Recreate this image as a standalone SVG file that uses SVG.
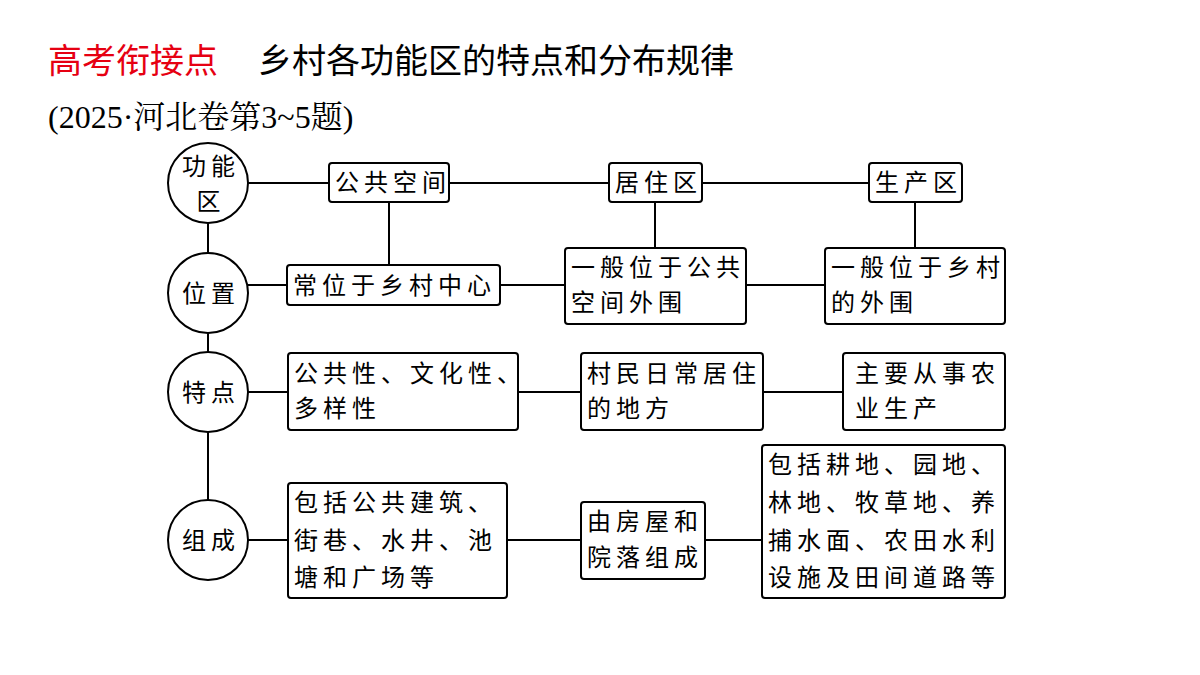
<svg xmlns="http://www.w3.org/2000/svg" width="1200" height="675" viewBox="0 0 1200 675">
<style>
.t{font-family:"Noto Sans CJK SC","Noto Sans",sans-serif;font-size:24px;letter-spacing:5px;fill:#000}
.b{fill:#fff;stroke:#000;stroke-width:2}
.l{stroke:#000;stroke-width:2;fill:none}
</style>
<rect width="1200" height="675" fill="#fff"/>
<text x="48" y="73" font-family="Noto Sans CJK SC,sans-serif" font-size="34" fill="#e60012">高考衔接点</text>
<text x="258" y="73" font-family="Noto Sans CJK SC,sans-serif" font-size="34" fill="#000">乡村各功能区的特点和分布规律</text>
<text x="48" y="128" font-family="Liberation Serif,Noto Serif CJK SC,Noto Sans CJK SC,serif" font-size="32" fill="#000">(2025·河北卷第3~5题)</text>
<g id="connectors" class="l">
<line x1="208" y1="183" x2="208" y2="540"/>
<line x1="248" y1="183" x2="869" y2="183"/>
<line x1="389" y1="202" x2="389" y2="265"/>
<line x1="655" y1="202" x2="655" y2="248"/>
<line x1="915" y1="202" x2="915" y2="248"/>
<line x1="248" y1="285" x2="825" y2="285"/>
<line x1="248" y1="392" x2="843" y2="392"/>
<line x1="248" y1="540" x2="762" y2="540"/>
</g>
<g id="c1"><circle class="b" cx="208" cy="183" r="40"/><text class="t" x="211" y="175" text-anchor="middle">功能</text><text class="t" x="211" y="210" text-anchor="middle">区</text></g>
<g id="c2"><circle class="b" cx="208" cy="293" r="40"/><text class="t" x="211" y="302" text-anchor="middle">位置</text></g>
<g id="c3"><circle class="b" cx="208" cy="392" r="40"/><text class="t" x="211" y="401" text-anchor="middle">特点</text></g>
<g id="c4"><circle class="b" cx="208" cy="540" r="40"/><text class="t" x="211" y="549" text-anchor="middle">组成</text></g>
<g id="n1"><rect class="b" x="329" y="163" width="120" height="39" rx="3"/><text class="t" x="335" y="191">公共空间</text></g>
<g id="n2"><rect class="b" x="609" y="163" width="93" height="39" rx="3"/><text class="t" x="615" y="191">居住区</text></g>
<g id="n3"><rect class="b" x="869" y="163" width="93" height="39" rx="3"/><text class="t" x="875" y="191">生产区</text></g>
<g id="n4"><rect class="b" x="287" y="265" width="213" height="40" rx="3"/><text class="t" x="293" y="294">常位于乡村中心</text></g>
<g id="n5"><rect class="b" x="565" y="248" width="181" height="76" rx="3"/><text class="t" x="571" y="276">一般位于公共</text><text class="t" x="571" y="311">空间外围</text></g>
<g id="n6"><rect class="b" x="825" y="248" width="180" height="76" rx="3"/><text class="t" x="831" y="276">一般位于乡村</text><text class="t" x="831" y="311">的外围</text></g>
<g id="n7"><rect class="b" x="288" y="353" width="230" height="77" rx="3"/><text class="t" x="294" y="382">公共性、文化性、</text><text class="t" x="294" y="417">多样性</text></g>
<g id="n8"><rect class="b" x="581" y="353" width="182" height="77" rx="3"/><text class="t" x="587" y="382">村民日常居住</text><text class="t" x="587" y="417">的地方</text></g>
<g id="n9"><rect class="b" x="843" y="353" width="162" height="77" rx="3"/><text class="t" x="855" y="382">主要从事农</text><text class="t" x="855" y="417">业生产</text></g>
<g id="n10"><rect class="b" x="288" y="483" width="219" height="115" rx="3"/><text class="t" x="294" y="511">包括公共建筑、</text><text class="t" x="294" y="549">街巷、水井、池</text><text class="t" x="294" y="586">塘和广场等</text></g>
<g id="n11"><rect class="b" x="581" y="502" width="124" height="77" rx="3"/><text class="t" x="587" y="530">由房屋和</text><text class="t" x="587" y="566">院落组成</text></g>
<g id="n12"><rect class="b" x="762" y="445" width="243" height="153" rx="3"/><text class="t" x="768" y="473">包括耕地、园地、</text><text class="t" x="768" y="511">林地、牧草地、养</text><text class="t" x="768" y="549">捕水面、农田水利</text><text class="t" x="768" y="586">设施及田间道路等</text></g>
</svg>
